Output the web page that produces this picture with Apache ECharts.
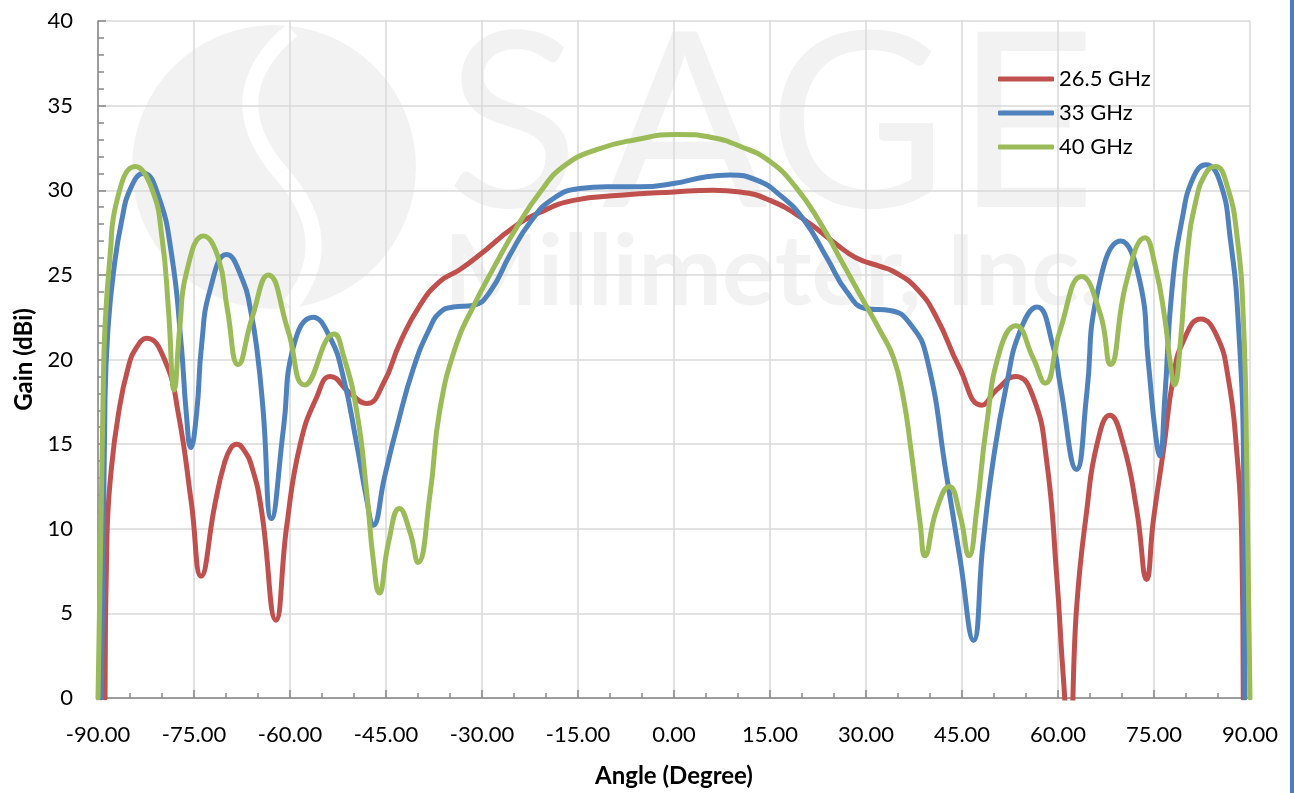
<!DOCTYPE html>
<html>
<head>
<meta charset="utf-8">
<script src="https://cdn.jsdelivr.net/npm/echarts@6/dist/echarts.min.js"></script>
<style>
html,body{margin:0;padding:0;background:#fff;}
#chart{width:1294px;height:793px;}
</style>
</head>
<body>
<div id="chart"></div>
<script>
// Series names (legend)
const seriesNames = ['26.5 GHz', '33 GHz', '40 GHz'];

// [angle (deg), gain (dBi)]
const gain265 = [
  [-88.9,0],[-88.6,9.5],[-87.9,13.6],[-86.8,16.8],[-85.3,19.5],[-84,20.7],[-82.4,21.25],
  [-79.5,19.9],[-77.45,16.8],[-75.4,11.5],[-73.9,7.2],[-71.7,11.5],[-70.3,13.8],[-69.2,14.8],[-68.3,15.0],
  [-67.3,14.7],[-66.0,13.7],[-64.5,11.2],[-62.2,4.6],[-60.5,10.2],[-58.4,15.0],[-55.8,17.8],[-53.7,19.0],
  [-50.6,18.0],[-48.0,17.4],[-45.4,18.6],[-42.8,21.0],[-39.7,23.2],[-36.6,24.6],[-33.5,25.3],[-30.3,26.2],
  [-25.1,27.8],[-20.9,28.7],[-15.7,29.4],[-8.4,29.7],[0,29.9],[6.1,30.0],[10.3,29.9],[15.0,29.4],[20.2,28.3],
  [25.4,26.8],[28.5,26.0],[32.2,25.5],[34.3,25.2],[37.9,24.2],[41.0,22.5],[44.5,19.6],[48.1,17.3],[50.4,18.2],
  [53.4,19.0],[56.1,17.8],[58.2,14.1],[59.8,7.2],[60.8,1.4],[61.8,-3],[62.9,5.3],[64.5,11.1],[66.1,15.0],
  [68.1,16.7],[70.2,15.0],[72.3,11.1],[73.85,7.0],[74.9,10.5],[76.5,14.7],[78.0,18.9],[79.6,21.1],[82.3,22.4],
  [84.8,21.4],[86.6,18.9],[87.9,14.7],[88.7,9.5],[88.95,0]
];
const gain33 = [
  [-89.5,0],[-88.9,17.8],[-88.4,22.0],[-87.6,25.1],[-86.3,28.2],[-84.8,30.2],[-82.9,31.0],[-80.6,29.7],
  [-78.5,26.2],[-77.0,20.9],[-76.2,16.8],[-75.5,14.8],[-74.6,16.8],[-73.8,20.9],[-72.5,24.1],[-69.9,26.2],
  [-67.3,24.6],[-66.2,23.0],[-65.2,20.7],[-64.2,17.0],[-62.9,10.6],[-61.0,16.0],[-59.5,20.7],[-56.4,22.5],
  [-53.75,21.3],[-51.7,19.0],[-49.6,15.05],[-48.0,11.7],[-47.0,10.2],[-45.2,13.1],[-43.3,16.0],[-40.7,19.5],
  [-38.1,21.9],[-36.5,22.8],[-34.5,23.1],[-31.4,23.2],[-28.75,24.0],[-25.6,26.2],[-22.5,28.1],[-18.9,29.5],
  [-14.7,30.1],[-10.5,30.2],[-5.3,30.2],[-0.1,30.4],[5.1,30.8],[8.75,30.9],[12.9,30.6],[16.6,29.7],[20.2,28.3],
  [23.9,26.0],[27.0,24.0],[30.1,23.0],[33.75,22.9],[36.9,22.1],[39.5,20.1],[42.6,13.1],[44.7,8.2],[46.8,3.4],
  [48.3,9.2],[49.9,14.1],[52.0,18.6],[54.1,21.7],[56.7,23.1],[59.3,20.7],[60.3,18.6],[62.9,13.5],[64.5,18.0],
  [66.0,23.65],[69.8,27.0],[72.8,24.6],[74.1,19.9],[75.2,15.7],[75.9,14.3],[76.7,17.8],[77.8,24.1],[79.4,28.3],
  [81.2,30.8],[83.1,31.5],[85.3,30.5],[86.9,27.2],[88.2,22.0],[89.0,13.6],[89.2,0]
];
const gain40 = [
  [-90,0],[-89.2,17.8],[-88.9,22.0],[-88.1,26.2],[-87.1,29.3],[-84.2,31.4],[-81.6,30.1],[-80.0,27.2],
  [-79.0,23.0],[-78.1,18.2],[-77.2,22.0],[-76.2,25.1],[-73.5,27.3],[-71.2,26.0],[-69.8,23.0],[-68.1,19.7],
  [-65.9,22.5],[-63.4,25.0],[-60.3,21.7],[-57.7,18.5],[-53.1,21.5],[-51.7,20.3],[-49.6,17.0],[-48.0,12.1],
  [-47.0,8.2],[-46.05,6.2],[-44.6,9.2],[-42.9,11.2],[-41.25,9.8],[-40.0,8.0],[-38.1,12.1],[-36.6,17.0],
  [-34.0,20.9],[-31.4,23.1],[-28.2,25.4],[-24.6,27.8],[-20.9,29.9],[-17.3,31.4],[-12.1,32.4],[-5.8,33.0],
  [0.4,33.3],[6.1,33.1],[10.3,32.6],[15.0,31.7],[19.2,30.1],[22.8,28.1],[25.9,26.0],[29.1,23.8],[32.2,21.7],
  [34.3,20.1],[35.8,17.8],[36.9,15.05],[38.5,10.2],[39.2,8.4],[41.0,11.1],[43.0,12.5],[44.7,10.8],[46.1,8.4],
  [47.3,11.1],[48.8,16.0],[50.9,20.5],[53.4,22.0],[56.1,20.1],[58.0,18.6],[60.3,21.7],[63.7,24.9],[66.6,22.7],
  [68.2,19.7],[70.7,24.6],[73.6,27.2],[75.2,25.5],[76.7,22.4],[77.5,19.9],[78.2,18.5],[79.1,20.9],[80.2,26.2],
  [81.5,29.3],[83.1,31.0],[84.6,31.4],[86.4,30.3],[88.0,27.2],[89.0,22.0],[89.5,13.6],[90,0]
];

const colors = ['#C0504D', '#4F81BD', '#9BBB59'];
const FONT = 'Lato, "Open Sans", sans-serif';
const WM = '#f2f2f2';

const chart = echarts.init(document.getElementById('chart'), null, {renderer: 'canvas'});

const mkSeries = (name, data, color) => ({
  name, type: 'line', data, showSymbol: false, symbol: 'none',
  smooth: 0.5, clip: true,
  lineStyle: {color, width: 5, cap: 'round', join: 'round'},
  itemStyle: {color}
});

const wmLetter = (ch, x) => ({type: 'text', z: -10, silent: true, x, y: 5,
  style: {text: ch, font: '400 245px Lato, sans-serif', fill: WM, textAlign: 'left', textVerticalAlign: 'top'}});

chart.setOption({
  animation: false,
  backgroundColor: '#fff',
  textStyle: {fontFamily: FONT},
  grid: {left: 98, right: 44, top: 21, bottom: 90, containLabel: false},
  graphic: [
    {type: 'circle', z: -10, silent: true, shape: {cx: 274, cy: 167, r: 142}, style: {fill: '#f2f2f2'}},
    {type: 'bezierCurve', z: -9, silent: true,
      shape: {x1: 292, y1: 30, cpx1: 215, cpy1: 95, x2: 280, y2: 172},
      style: {fill: 'none', stroke: '#ffffff', lineWidth: 16}},
    {type: 'bezierCurve', z: -9, silent: true,
      shape: {x1: 280, y1: 172, cpx1: 342, cpy1: 240, x2: 290, y2: 306},
      style: {fill: 'none', stroke: '#ffffff', lineWidth: 16}},
    wmLetter('S', 446), wmLetter('A', 602), wmLetter('G', 768), wmLetter('E', 955),
    {type: 'text', z: -10, silent: true, x: 444, y: 224, scaleX: 1.02,
      style: {text: 'Millimeter, Inc.', font: '700 98px Lato, sans-serif', fill: WM, textAlign: 'left', textVerticalAlign: 'top'}},
    {type: 'rect', z: 100, silent: true, shape: {x: 1290, y: 0, width: 4, height: 793}, style: {fill: '#4A7EBB'}}
  ],
  legend: {
    orient: 'vertical', left: 993, top: 62, itemWidth: 56, itemHeight: 5, itemGap: 10,
    icon: 'roundRect',
    data: seriesNames,
    textStyle: {fontFamily: FONT, fontSize: 22, color: '#000', lineHeight: 24}
  },
  xAxis: {
    type: 'value', min: -90, max: 90, interval: 15,
    name: 'Angle (Degree)', nameLocation: 'middle', nameGap: 66,
    nameTextStyle: {fontFamily: FONT, fontSize: 24, fontWeight: 'bold', color: '#000'},
    axisLine: {show: true, onZero: false, lineStyle: {color: '#868686', width: 1.5}},
    axisTick: {show: true, inside: true, length: 8, lineStyle: {color: '#868686', width: 1.5}},
    minorTick: {show: true, splitNumber: 3, length: 5, lineStyle: {color: '#868686', width: 1.5}},
    axisLabel: {fontFamily: FONT, fontSize: 22, color: '#000', margin: 26,
      formatter: v => v.toFixed(2)},
    splitLine: {show: true, lineStyle: {color: '#d9d9d9', width: 1.5}}
  },
  yAxis: {
    type: 'value', min: 0, max: 40, interval: 5,
    name: 'Gain (dBi)', nameLocation: 'middle', nameGap: 58,
    nameTextStyle: {fontFamily: FONT, fontSize: 24, fontWeight: 'bold', color: '#000'},
    axisLine: {show: true, onZero: false, lineStyle: {color: '#868686', width: 1.5}},
    axisTick: {show: true, inside: true, length: 8, lineStyle: {color: '#868686', width: 1.5}},
    minorTick: {show: true, splitNumber: 5, length: 6, lineStyle: {color: '#868686', width: 1.5}},
    axisLabel: {fontFamily: FONT, fontSize: 22, color: '#000', margin: 25},
    splitLine: {show: true, lineStyle: {color: '#d9d9d9', width: 1.5}}
  },
  series: [
    mkSeries(seriesNames[0], gain265, colors[0]),
    mkSeries(seriesNames[1], gain33, colors[1]),
    mkSeries(seriesNames[2], gain40, colors[2])
  ]
});
</script>
</body>
</html>
